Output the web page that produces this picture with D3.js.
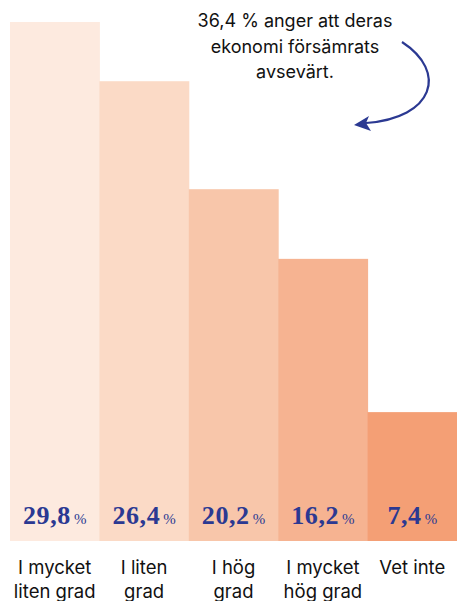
<!DOCTYPE html>
<html>
<head>
<meta charset="utf-8">
<script src="https://cdn.jsdelivr.net/npm/d3@7"></script>
<style>
  body { margin: 0; background: #fff; }
  svg { display: block; }
</style>
</head>
<body>
<div id="chart"></div>
<script>
const categories = [["I mycket", "liten grad"], ["I liten", "grad"], ["I hög", "grad"], ["I mycket", "hög grad"], ["Vet inte"]];
const values = [29.8, 26.4, 20.2, 16.2, 7.4];
const colors = ["#fdeadf", "#fbdac6", "#f8c6aa", "#f6b391", "#f49f75"];
const note = ["36,4 % anger att deras", "ekonomi försämrats", "avsevärt."];

const width = 457, height = 601;
const navy = "#2b3992";

const svg = d3.select("#chart").append("svg")
    .attr("width", width)
    .attr("height", height);

const x = d3.scaleBand()
    .domain(d3.range(values.length))
    .range([10, 457])
    .padding(0);

const y = d3.scaleLinear()
    .domain([0, 29.8])
    .range([541, 22]);

svg.selectAll("rect.bar")
    .data(values)
    .enter().append("rect")
    .attr("class", "bar")
    .attr("x", (d, i) => x(i))
    .attr("y", d => y(d))
    .attr("width", x.bandwidth() + 0.5)
    .attr("height", d => y(0) - y(d))
    .attr("fill", (d, i) => colors[i]);

// value labels inside bars
const vals = svg.selectAll("text.val")
    .data(values)
    .enter().append("text")
    .attr("class", "val")
    .attr("x", (d, i) => x(i) + x.bandwidth() / 2)
    .attr("y", 524)
    .attr("text-anchor", "middle")
    .attr("font-family", "'Liberation Serif', 'DejaVu Serif', serif")
    .attr("fill", navy);
vals.append("tspan")
    .attr("font-size", 26)
    .attr("font-weight", "bold")
    .attr("letter-spacing", 0.6)
    .text(d => d.toFixed(1).replace(".", ","));
vals.append("tspan")
    .attr("font-size", 15)
    .attr("dx", 3)
    .text("%");

// category labels
const cats = svg.selectAll("text.cat")
    .data(categories)
    .enter().append("text")
    .attr("class", "cat")
    .attr("x", (d, i) => x(i) + x.bandwidth() / 2)
    .attr("y", 574)
    .attr("text-anchor", "middle")
    .attr("font-family", "Inter, 'Noto Sans', sans-serif")
    .attr("font-size", 18.5)
    .attr("fill", "#111");
cats.selectAll("tspan")
    .data(d => d)
    .enter().append("tspan")
    .attr("x", function() { return d3.select(this.parentNode).attr("x"); })
    .attr("dy", (d, i) => i === 0 ? 0 : 24)
    .text(d => d);

// annotation
svg.append("text")
    .attr("font-family", "Inter, 'Noto Sans', sans-serif")
    .attr("font-size", 18)
    .attr("fill", "#111")
    .attr("text-anchor", "middle")
    .selectAll("tspan")
    .data(note)
    .enter().append("tspan")
    .attr("x", 295)
    .attr("y", (d, i) => 27 + i * 25.5)
    .text(d => d);

svg.append("path")
    .attr("d", "M402,42 C448,72 434,118 366,123")
    .attr("fill", "none")
    .attr("stroke", navy)
    .attr("stroke-width", 2.2);

svg.append("path")
    .attr("d", "M354,125 L369,116 L366,123 L371,131 Z")
    .attr("fill", navy);
</script>
</body>
</html>
